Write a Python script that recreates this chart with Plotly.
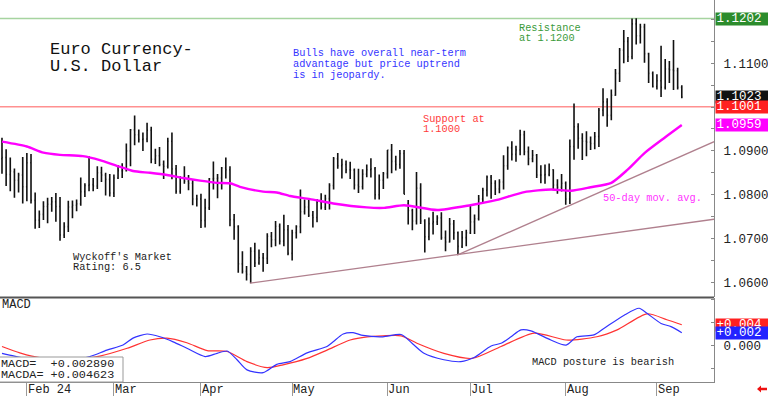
import plotly.graph_objects as go

FONT = "Liberation Mono"

# ---------------- data ----------------
day_idx = list(range(165))
opens = [1.0882,1.0885,1.0846,1.0852,1.0833,1.0845,1.0818,1.0873,1.0787,1.0742,
         1.0755,1.0773,1.0778,1.0784,1.0773,1.0708,1.0727,1.0772,1.0776,1.0779,
         1.0807,1.0821,1.0823,1.0820,1.0850,1.0845,1.0835,1.0804,1.0838,1.0855,
         1.0855,1.0900,1.0948,1.0937,1.0926,1.0927,1.0947,1.0881,1.0889,1.0869,
         1.0865,1.0922,1.0859,1.0808,1.0839,1.0831,1.0826,1.0790,1.0790,1.0741,
         1.0770,1.0836,1.0837,1.0838,1.0861,1.0857,1.0743,1.0727,1.0642,1.0625,
         1.0618,1.0671,1.0644,1.0656,1.0655,1.0705,1.0697,1.0728,1.0694,1.0720,
         1.0666,1.0713,1.0727,1.0761,1.0772,1.0753,1.0748,1.0783,1.0771,1.0791,
         1.0821,1.0882,1.0866,1.0869,1.0857,1.0856,1.0822,1.0818,1.0847,1.0857,
         1.0859,1.0800,1.0833,1.0848,1.0902,1.0876,1.0869,1.0894,1.0780,1.0764,
         1.0740,1.0815,1.0740,1.0704,1.0734,1.0738,1.0747,1.0702,1.0692,1.0733,
         1.0713,1.0682,1.0702,1.0713,1.0738,1.0745,1.0790,1.0810,1.0840,1.0826,
         1.0813,1.0829,1.0866,1.0907,1.0892,1.0902,1.0937,1.0898,1.0882,1.0890,
         1.0845,1.0845,1.0846,1.0857,1.0822,1.0817,1.0826,1.0790,1.0910,1.0955,
         1.0929,1.0922,1.0920,1.0917,1.0933,1.0993,1.1012,1.0981,1.1027,1.1077,
         1.1130,1.1150,1.1115,1.1190,1.1163,1.1183,1.1122,1.1077,1.1047,1.1060,
         1.1045,1.1087,1.1085,1.1083,1.1045]
highs = [1.0930,1.0904,1.0885,1.0860,1.0850,1.0886,1.0895,1.0893,1.0805,1.0764,
         1.0785,1.0793,1.0795,1.0804,1.0795,1.0737,1.0786,1.0787,1.0789,1.0839,
         1.0826,1.0888,1.0838,1.0865,1.0864,1.0850,1.0847,1.0846,1.0868,1.0872,
         1.0917,1.0950,1.0981,1.0949,1.0942,1.0964,1.0955,1.0905,1.0909,1.0878,
         1.0930,1.0942,1.0868,1.0842,1.0865,1.0845,1.0834,1.0800,1.0802,1.0791,
         1.0838,1.0876,1.0847,1.0863,1.0885,1.0865,1.0756,1.0730,1.0671,1.0637,
         1.0680,1.0690,1.0675,1.0667,1.0712,1.0715,1.0740,1.0734,1.0754,1.0731,
         1.0720,1.0730,1.0812,1.0789,1.0790,1.0763,1.0790,1.0803,1.0800,1.0826,
         1.0886,1.0895,1.0882,1.0878,1.0875,1.0860,1.0859,1.0858,1.0869,1.0883,
         1.0863,1.0846,1.0852,1.0902,1.0916,1.0889,1.0902,1.0902,1.0788,1.0768,
         1.0852,1.0826,1.0744,1.0748,1.0761,1.0753,1.0760,1.0718,1.0747,1.0742,
         1.0716,1.0717,1.0720,1.0776,1.0755,1.0799,1.0816,1.0844,1.0845,1.0833,
         1.0835,1.0890,1.0910,1.0922,1.0912,1.0948,1.0946,1.0910,1.0902,1.0893,
         1.0867,1.0869,1.0871,1.0858,1.0835,1.0847,1.0830,1.0926,1.1008,1.0963,
         1.0940,1.0945,1.0933,1.0943,1.0998,1.1043,1.1020,1.1040,1.1087,1.1135,
         1.1176,1.1160,1.1202,1.1203,1.1190,1.1190,1.1124,1.1081,1.1075,1.1140,
         1.1110,1.1105,1.1153,1.1090,1.1050]
lows = [1.0848,1.0820,1.0808,1.0793,1.0805,1.0780,1.0785,1.0780,1.0722,1.0724,
        1.0742,1.0735,1.0761,1.0738,1.0695,1.0701,1.0715,1.0746,1.0762,1.0775,
        1.0795,1.0808,1.0808,1.0813,1.0829,1.0798,1.0796,1.0795,1.0836,1.0838,
        1.0853,1.0865,1.0913,1.0919,1.0900,1.0920,1.0872,1.0870,1.0865,1.0836,
        1.0860,1.0835,1.0802,1.0802,1.0825,1.0810,1.0776,1.0773,1.0724,1.0725,
        1.0765,1.0812,1.0792,1.0812,1.0837,1.0728,1.0697,1.0622,1.0620,1.0604,
        1.0598,1.0635,1.0640,1.0624,1.0642,1.0680,1.0682,1.0686,1.0682,1.0662,
        1.0650,1.0700,1.0712,1.0755,1.0749,1.0725,1.0737,1.0766,1.0765,1.0766,
        1.0812,1.0859,1.0837,1.0849,1.0836,1.0812,1.0804,1.0812,1.0840,1.0839,
        1.0789,1.0789,1.0813,1.0837,1.0849,1.0855,1.0859,1.0801,1.0732,1.0719,
        1.0732,1.0733,1.0668,1.0696,1.0709,1.0731,1.0697,1.0671,1.0691,1.0697,
        1.0664,1.0678,1.0682,1.0710,1.0710,1.0741,1.0783,1.0796,1.0791,1.0799,
        1.0803,1.0812,1.0857,1.0878,1.0875,1.0890,1.0890,1.0867,1.0874,1.0838,
        1.0826,1.0825,1.0842,1.0810,1.0802,1.0807,1.0777,1.0779,1.0880,1.0905,
        1.0879,1.0888,1.0902,1.0904,1.0909,1.0979,1.0955,1.0970,1.1026,1.1057,
        1.1100,1.1103,1.1109,1.1143,1.1145,1.1101,1.1055,1.1045,1.1040,1.1023,
        1.1040,1.1055,1.1039,1.1040,1.1020]
closes = [1.0885,1.0846,1.0854,1.0833,1.0845,1.0818,1.0873,1.0787,1.0742,1.0755,
          1.0773,1.0778,1.0784,1.0773,1.0708,1.0727,1.0772,1.0776,1.0779,1.0807,
          1.0821,1.0823,1.0820,1.0850,1.0845,1.0835,1.0804,1.0838,1.0855,1.0855,
          1.0900,1.0948,1.0937,1.0926,1.0927,1.0947,1.0881,1.0889,1.0869,1.0865,
          1.0922,1.0859,1.0808,1.0839,1.0831,1.0826,1.0790,1.0790,1.0741,1.0770,
          1.0836,1.0837,1.0838,1.0861,1.0857,1.0743,1.0727,1.0642,1.0625,1.0618,
          1.0671,1.0644,1.0656,1.0655,1.0705,1.0697,1.0728,1.0694,1.0720,1.0666,
          1.0713,1.0727,1.0761,1.0772,1.0753,1.0748,1.0783,1.0771,1.0791,1.0821,
          1.0882,1.0866,1.0869,1.0857,1.0856,1.0822,1.0818,1.0847,1.0857,1.0859,
          1.0800,1.0833,1.0848,1.0902,1.0876,1.0869,1.0894,1.0801,1.0764,1.0740,
          1.0815,1.0740,1.0704,1.0734,1.0738,1.0747,1.0702,1.0692,1.0733,1.0713,
          1.0682,1.0702,1.0713,1.0738,1.0745,1.0790,1.0810,1.0840,1.0826,1.0813,
          1.0829,1.0866,1.0907,1.0892,1.0902,1.0937,1.0898,1.0882,1.0890,1.0845,
          1.0845,1.0846,1.0857,1.0822,1.0817,1.0826,1.0790,1.0910,1.0955,1.0929,
          1.0922,1.0920,1.0917,1.0933,1.0993,1.1012,1.0981,1.1027,1.1077,1.1130,
          1.1150,1.1115,1.1190,1.1163,1.1183,1.1122,1.1077,1.1047,1.1060,1.1045,
          1.1087,1.1085,1.1083,1.1045,1.1023]

# 50-day moving average
ma_x = [0, 6, 10, 14, 19.5, 23.6, 27.7, 31.6, 35.7, 39.8, 43.7, 47.8, 51.9, 55,
        57.4, 63, 66.3, 69.5, 74.3, 79.9, 88, 92.2, 97, 105, 113, 119.4, 126,
        132.5, 137.3, 142, 147, 150.8, 155, 159.7, 164]
ma_y = [1.0921, 1.0910, 1.0896, 1.0891, 1.0888, 1.0879, 1.0866, 1.0854, 1.0850,
        1.0845, 1.0838, 1.0832, 1.0827, 1.0826, 1.0818, 1.0807, 1.0805, 1.0797,
        1.0790, 1.0780, 1.0771, 1.0770, 1.0776, 1.0765, 1.0776, 1.0788, 1.0806,
        1.0812, 1.0809, 1.0817, 1.0827, 1.0856, 1.0895, 1.0929, 1.0959]

# MACD (blue) and MACDA signal (red)
macd_x = [0, 3, 10, 16, 21.2, 25.3, 29.2, 31.6, 35, 38.1, 41.3, 44.6, 49, 51.9,
          54.3, 56.7, 59.1, 63, 66.3, 69.5, 73.6, 78.4, 79.9, 82.3, 84.7, 87.1,
          91.9, 96.3, 99.4, 101.8, 106.6, 110.7, 113.9, 118, 120.4, 122.8, 125.2,
          127.6, 132.4, 136.1, 138.7, 142.8, 145.2, 150.1, 153.7, 155.6, 159,
          161.4, 164]
macd_y = [-0.0016, -0.0022, -0.0035, -0.0033, -0.0023, -0.0009, 0.0002, 0.0017,
          0.0026, 0.0020, 0.0009, -0.0005, -0.0023, -0.0016, -0.0011, -0.0030,
          -0.0052, -0.0058, -0.0040, -0.0034, -0.0015, -0.0001, 0.0009, 0.0026,
          0.0029, 0.0023, 0.0020, 0.0025, 0.0002, -0.0016, -0.0030, -0.0034,
          -0.0025, 0.0000, 0.0006, 0.0020, 0.0035, 0.0033, 0.0013, 0.0002, 0.0020,
          0.0024, 0.0038, 0.0067, 0.0082, 0.0071, 0.0049, 0.0042, 0.00289]
sig_x = [0, 4.3, 7.2, 14, 20, 23.6, 30.2, 35.7, 39.8, 44.6, 49.5, 54.3, 59.1, 64,
         67.8, 73.6, 78.4, 84, 88.1, 91.9, 96.3, 100.1, 106.6, 113.4, 120.4,
         128.4, 136.1, 143.5, 148.4, 155.6, 160.4, 164]
sig_y = [-0.0001, -0.0015, -0.0022, -0.0030, -0.0027, -0.0022, -0.0005, 0.0013,
         0.0017, 0.0007, -0.0010, -0.0012, -0.0034, -0.0047, -0.0041, -0.0027,
         -0.0009, 0.0013, 0.0020, 0.0022, 0.0022, 0.0006, -0.0016, -0.0027,
         -0.0001, 0.0028, 0.0013, 0.0020, 0.0035, 0.0070, 0.0057, 0.004623]

month_idx = [6, 27, 48, 70, 93, 113, 136, 158]
month_lbl = ["Feb 24", "Mar", "Apr", "May", "Jun", "Jul", "Aug", "Sep"]

price_tickvals = [1.060, 1.065, 1.070, 1.075, 1.080, 1.085, 1.090, 1.095,
                  1.100, 1.105, 1.110, 1.115, 1.120]
price_ticktext = ["1.0600", "", "1.0700", "", "1.0800", "", "1.0900", "",
                  "", "", "1.1100", "", ""]
macd_tickvals = [-0.005, 0.0, 0.005, 0.010]
macd_ticktext = ["", "0.000", "", ""]

resistance = 1.1202
support = 1.1001
last_close = 1.1023
last_ma = 1.0959
macd_last = 0.002890
macda_last = 0.004623

trend1_x = [59.8, 171.8]
trend1_y = [1.0598, 1.0744]
trend2_x = [109.8, 171.8]
trend2_y = [1.0662, 1.0921]

# ---------------- geometry helpers (pixel -> paper) ----------------
W, H = 768, 397
ML, MR, MT, MB = 0, 54, 0, 15
PW, PH = W - ML - MR, H - MT - MB


def PX(x):
    return (x - ML) / PW


def PY(y):
    return (PH + MT - y) / PH


fig = go.Figure()

fig.add_trace(go.Scatter(x=trend1_x, y=trend1_y, mode="lines",
                         line=dict(color="#b0808e", width=1.3),
                         hoverinfo="skip", xaxis="x", yaxis="y"))
fig.add_trace(go.Scatter(x=trend2_x, y=trend2_y, mode="lines",
                         line=dict(color="#b0808e", width=1.3),
                         hoverinfo="skip", xaxis="x", yaxis="y"))

fig.add_trace(go.Ohlc(x=day_idx, open=opens, high=highs, low=lows, close=closes,
                      increasing=dict(line=dict(color="#111111", width=1.6)),
                      decreasing=dict(line=dict(color="#111111", width=1.6)),
                      tickwidth=0.22, xaxis="x", yaxis="y"))

fig.add_trace(go.Scatter(x=ma_x, y=ma_y, mode="lines",
                         line=dict(color="#ff00ff", width=2.4, shape="spline",
                                   smoothing=0.6),
                         xaxis="x", yaxis="y"))

fig.add_trace(go.Scatter(x=sig_x, y=sig_y, mode="lines",
                         line=dict(color="#ff3333", width=1.2, shape="spline",
                                   smoothing=0.7),
                         xaxis="x", yaxis="y2"))
fig.add_trace(go.Scatter(x=macd_x, y=macd_y, mode="lines",
                         line=dict(color="#3333ff", width=1.2, shape="spline",
                                   smoothing=0.7),
                         xaxis="x", yaxis="y2"))

shapes = [
    dict(type="line", xref="paper", yref="y", x0=0, x1=1, y0=resistance,
         y1=resistance, line=dict(color="#a6d4a0", width=1.5), layer="below"),
    dict(type="line", xref="paper", yref="y", x0=0, x1=1, y0=support,
         y1=support, line=dict(color="#ff9090", width=1.5), layer="below"),
    dict(type="line", xref="paper", yref="paper", x0=0, x1=1,
         y0=PY(297.5), y1=PY(297.5), line=dict(color="#555555", width=2)),
    dict(type="rect", xref="paper", yref="paper", x0=PX(-1), x1=PX(123),
         y0=PY(382), y1=PY(357), fillcolor="white",
         line=dict(color="#999999", width=1), layer="above"),
    dict(type="path", xref="paper", yref="paper", fillcolor="#ee1111",
         line=dict(width=0),
         path=(f"M {PX(757)},{PY(389)} L {PX(761)},{PY(385.5)} "
               f"L {PX(761)},{PY(387.7)} L {PX(767)},{PY(387.7)} "
               f"L {PX(767)},{PY(390.3)} L {PX(761)},{PY(390.3)} "
               f"L {PX(761)},{PY(392.5)} Z")),
]


def txt(x, y, s, size, color, family=FONT):
    return dict(xref="paper", yref="paper", x=PX(x), y=PY(y), text=s,
                xanchor="left", yanchor="middle", showarrow=False,
                font=dict(family=family, size=size, color=color))


ann = [
    txt(48, 49.3, "Euro Currency-", 17, "#111111"),
    txt(48, 66.7, "U.S. Dollar", 17, "#111111"),
    txt(291, 53.3, "Bulls have overall near-term", 10.3, "#3535ff"),
    txt(291, 64, "advantage but price uptrend", 10.3, "#3535ff"),
    txt(291, 74.7, "is in jeopardy.", 10.3, "#3535ff"),
    txt(517, 27.7, "Resistance", 10.3, "#3a9a3a"),
    txt(517, 37.7, "at 1.1200", 10.3, "#3a9a3a"),
    txt(421, 119, "Support at", 10.3, "#ff3b3b"),
    txt(421, 129, "1.1000", 10.3, "#ff3b3b"),
    txt(601, 198.3, "50-day mov. avg.", 10.3, "#ff33ff"),
    txt(71, 256.7, "Wyckoff's Market", 10.3, "#222222"),
    txt(71, 267.3, "Rating: 6.5", 10.3, "#222222"),
    txt(0, 305, "MACD", 12, "#222222"),
    txt(-1, 363.5, "MACD=  +0.002890", 11.8, "#222222"),
    txt(-1, 374.5, "MACDA= +0.004623", 11.8, "#222222"),
    txt(530, 361.7, "MACD posture is bearish", 10.3, "#222222"),
]

for i, lbl in zip(month_idx, month_lbl):
    ann.append(dict(xref="x", yref="paper", x=i, y=PY(389.5), text=lbl,
                    xanchor="left", yanchor="middle", showarrow=False,
                    xshift=-1,
                    font=dict(family=FONT, size=12, color="#222222")))


def vbox(val, yref, s, bg):
    return dict(xref="paper", yref=yref, x=PX(715), y=val, text=s,
                xanchor="left", yanchor="middle", showarrow=False,
                bgcolor=bg, width=53, height=12, borderpad=0, align="right",
                font=dict(family=FONT, size=12.5, color="white"))


ann += [
    vbox(resistance, "y", "1.1202 ", "#2c8c2c"),
    vbox(last_close, "y", "1.1023 ", "#111111"),
    vbox(support, "y", "1.1001 ", "#ff2020"),
    vbox(last_ma, "y", "1.0959 ", "#ff00ff"),
    vbox(macda_last, "y2", "+0.004 ", "#ff2020"),
    vbox(macd_last, "y2", "+0.002 ", "#2222ff"),
]

fig.update_layout(
    width=W, height=H,
    margin=dict(l=ML, r=MR, t=MT, b=MB, pad=0),
    paper_bgcolor="white", plot_bgcolor="white",
    showlegend=False,
    shapes=shapes,
    annotations=ann,
    xaxis=dict(domain=[0, 1], anchor="y2", range=[-0.48, 171.77],
               rangeslider=dict(visible=False), showgrid=False, zeroline=False,
               showline=True, linecolor="#888888", linewidth=1,
               tickmode="array", tickvals=month_idx, ticks="outside",
               ticklen=13, tickcolor="#999999", tickwidth=1,
               showticklabels=False),
    yaxis=dict(domain=[(PH - 297) / PH, 1], anchor="x", side="right",
               range=[1.05664, 1.12445], showgrid=False, zeroline=False,
               showline=True, linecolor="#888888", linewidth=1,
               tickmode="array", tickvals=price_tickvals,
               ticktext=price_ticktext, ticks="inside", ticklen=3,
               tickcolor="#888888", ticklabelstandoff=6,
               tickfont=dict(family=FONT, size=12.5, color="#222222")),
    yaxis2=dict(domain=[0, (PH - 298) / PH], anchor="x", side="right",
                range=[-0.00783, 0.01043], showgrid=False, zeroline=False,
                showline=True, linecolor="#888888", linewidth=1,
                tickmode="array", tickvals=macd_tickvals,
                ticktext=macd_ticktext, ticks="inside", ticklen=3,
                tickcolor="#888888", ticklabelstandoff=6,
                tickfont=dict(family=FONT, size=12.5, color="#222222")),
)

fig.write_html("out.html",
               config={"displayModeBar": False},
               post_script="document.body.style.margin='0';"
                           "document.body.style.overflow='hidden';")
